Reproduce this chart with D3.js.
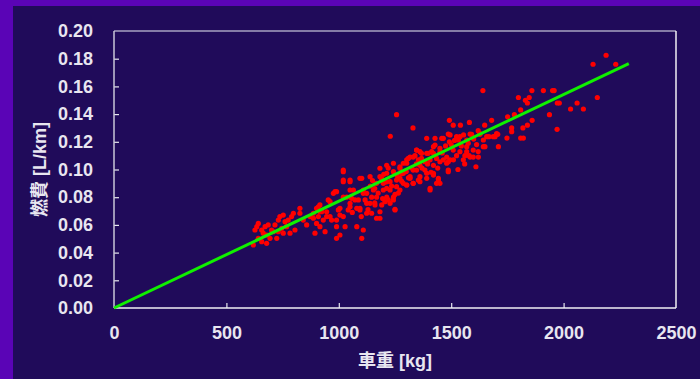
<!DOCTYPE html>
<html>
<head>
<meta charset="utf-8">
<script src="https://cdn.jsdelivr.net/npm/d3@7"></script>
<style>
  html, body { margin: 0; padding: 0; background: #5a04b6; }
  svg { display: block; }
  .tick text, .title { font-family: "Liberation Sans", Arial, "Noto Sans CJK JP", sans-serif; font-weight: bold; fill: #e8e6f0; }
</style>
</head>
<body>
<div id="chart"></div>
<script>
// vehicle weight [kg] vs fuel use [L/km]
var lightCars = [
  [620,0.0455],[627,0.0563],[642,0.0611],[657,0.0563],[672,0.0587],[686,0.060],[701,0.0563],
  [716,0.060],[731,0.0635],[738,0.066],[753,0.0671],[761,0.0623],[775,0.0635],[790,0.066],
  [798,0.0684],[827,0.072],[805,0.0563],[783,0.054],[753,0.054],[731,0.0551],[709,0.0551],
  [679,0.0467],[657,0.0479],[642,0.0503],[679,0.0527],[694,0.0503],[724,0.0503],[635,0.0587],
  [664,0.054],[746,0.0575],[768,0.0587],[827,0.0684],[842,0.0635],[857,0.060],[872,0.066],
  [887,0.0684],[894,0.054],[901,0.072],[916,0.0744],[939,0.0551],[946,0.066],[953,0.078],
  [968,0.0635],[983,0.084],[990,0.0635],[998,0.0708],[990,0.0587],[990,0.0503],[924,0.0695],
  [931,0.0635],[909,0.066],[961,0.0768],[909,0.0731],[946,0.0695],[901,0.0611],[916,0.0587],
  [887,0.0648],[916,0.0695],[961,0.066],[976,0.0828],[990,0.084]
];
var midCars = [
  [1005,0.0527],[1020,0.066],[1028,0.0587],[1005,0.0671],[1042,0.0708],[1050,0.0756],
  [1057,0.0792],[1020,0.080],[1020,0.0912],[1020,0.0984],[1080,0.0587],[1102,0.0503],
  [1109,0.0563],[1005,0.072],[1050,0.0852],[1020,0.0924],[1020,0.0996],[1050,0.0924],
  [1072,0.078],[1050,0.0731],[1094,0.072],[1124,0.0756],[1146,0.0684],[1183,0.0695],
  [1183,0.0648],[1250,0.0713],[1205,0.0768],[1243,0.080],[1117,0.078],[1146,0.080],
  [1213,0.080],[1228,0.0756],[1161,0.0744],[1183,0.1009],[1220,0.101],[1272,0.1009],
  [1302,0.1045],[1309,0.108],[1339,0.110],[1361,0.103],[1383,0.0996],[1391,0.0936],
  [1406,0.0852],[1443,0.0936],[1421,0.0973],[1450,0.090],[1354,0.0924],[1317,0.0936],
  [1287,0.090],[1257,0.0876],[1228,0.0852],[1198,0.0852],[1168,0.080],[1124,0.0828],
  [1102,0.0936],[1139,0.0948],[1109,0.0852],[1183,0.0948],[1213,0.0973],[1243,0.0984],
  [1228,0.0912],[1168,0.090],[1198,0.090],[1272,0.0936],[1331,0.0996],[1383,0.1056],
  [1406,0.107],[1368,0.108],[1213,0.103],[1243,0.1045],[1302,0.107],[1331,0.109],
  [1361,0.1129],[1421,0.1117],[1450,0.1056],[1480,0.1045],[1487,0.0996],[1421,0.096],
  [1361,0.0912],[1331,0.090],[1302,0.0888],[1272,0.0852],[1250,0.0708],[1243,0.078],
  [1220,0.078],[1191,0.0744],[1168,0.0648],[1139,0.0756],[1124,0.0684],[1094,0.0708],
  [1080,0.072],[1109,0.0828],[1094,0.0936],[1050,0.0912],[1065,0.0852],[1087,0.078],
  [1154,0.0852],[1213,0.0864],[1257,0.0924],[1287,0.0973],[1317,0.0948],[1346,0.0996],
  [1391,0.0973],[1421,0.103],[1257,0.1396],[1229,0.124],[1330,0.130],[1346,0.114],
  [1317,0.109],[1287,0.1045],[1354,0.107],[1391,0.1117],[1421,0.1165],[1450,0.1153],
  [1480,0.109],[1487,0.0984],[1443,0.0924],[1435,0.090],[1406,0.0864],[1361,0.0948],
  [1331,0.090],[1302,0.0888],[1272,0.102],[1368,0.1117],[1398,0.1117],[1413,0.1129],
  [1428,0.1177],[1450,0.1129],[1435,0.108],[1465,0.107],[1487,0.1056],[1391,0.1225],
  [1428,0.1225],[1458,0.1225],[1487,0.1256],[1465,0.1225],[1492,0.120],[1495,0.125],
  [1492,0.1355],[1346,0.114],[1160,0.0862],[1190,0.0935],[1260,0.0955],[1300,0.0985],
  [1140,0.088],[1200,0.0965],[1280,0.0915],[1150,0.092],[1175,0.083],[1195,0.079],
  [1210,0.091],[1235,0.088],[1265,0.083],[1280,0.097],[1310,0.094],[1325,0.101],
  [1345,0.104],[1370,0.101],[1395,0.104],[1410,0.098],[1440,0.101],[1460,0.112],
  [1475,0.117],[1130,0.071],[1160,0.076],[1250,0.082],[1100,0.066],[1060,0.069],[1035,0.080]
];
var heavyCars = [
  [2189,0.1825],[2131,0.176],[2232,0.176],[2150,0.152],[1641,0.157],[1859,0.157],
  [1910,0.157],[1951,0.157],[1958,0.157],[1799,0.152],[1830,0.150],[1839,0.148],
  [1847,0.152],[1972,0.148],[1981,0.148],[2060,0.148],[2031,0.1437],[2088,0.1437],
  [1937,0.1396],[1971,0.129],[1809,0.143],[1781,0.1396],[1751,0.138],[1860,0.1355],
  [1839,0.132],[1819,0.130],[1769,0.130],[1769,0.1273],[1809,0.1227],[1821,0.1227],
  [1748,0.1227],[1680,0.1355],[1649,0.132],[1581,0.134],[1541,0.132],[1509,0.132],
  [1707,0.1254],[1695,0.1237],[1668,0.1237],[1710,0.1165],[1628,0.1254],[1643,0.1213],
  [1613,0.118],[1650,0.1165],[1591,0.1254],[1569,0.1213],[1539,0.1237],[1532,0.1213],
  [1524,0.1237],[1584,0.1256],[1628,0.126],[1658,0.1237],[1687,0.1237],[1702,0.126],
  [1509,0.114],[1539,0.1129],[1569,0.1165],[1598,0.114],[1584,0.109],[1621,0.109],
  [1495,0.107],[1524,0.110],[1561,0.110],[1510,0.107],[1554,0.107],[1569,0.1129],
  [1598,0.109],[1643,0.1165],[1576,0.119],[1560,0.104],[1610,0.102],[1580,0.110],
  [1530,0.100],[1620,0.113],[1500,0.118],[1515,0.121],[1545,0.117],[1555,0.125],
  [1600,0.122],[1620,0.128]
];
var trendX = [0, 2290];
var trendY = [0, 0.1765];
var xTicks = [0, 500, 1000, 1500, 2000, 2500];
var yTicks = [0, 0.02, 0.04, 0.06, 0.08, 0.10, 0.12, 0.14, 0.16, 0.18, 0.20];

const width = 700, height = 379;
const plot = { left: 114, top: 31, right: 676, bottom: 308 };

const svg = d3.select("#chart").append("svg")
  .attr("width", width)
  .attr("height", height);

// purple border, dark panel
svg.append("rect").attr("x", 13).attr("y", 6)
  .attr("width", width - 13).attr("height", height - 6)
  .attr("fill", "#200b5a");

const xScale = d3.scaleLinear().domain([0, 2500]).range([plot.left, plot.right]);
const yScale = d3.scaleLinear().domain([0, 0.2]).range([plot.bottom, plot.top]);

// axes with inward ticks
var xAxis = svg.append("g")
  .attr("transform", "translate(0," + plot.bottom + ")")
  .call(d3.axisBottom(xScale).tickValues(xTicks).tickSize(-5).tickPadding(18).tickFormat(d3.format("d")));
var yAxis = svg.append("g")
  .attr("transform", "translate(" + plot.left + ",0)")
  .call(d3.axisLeft(yScale).tickValues(yTicks).tickSize(-5).tickPadding(21).tickFormat(d3.format(".2f")));

[xAxis, yAxis].forEach(function(a) {
  a.select(".domain").remove();
  a.selectAll(".tick line").attr("stroke", "#e8e8ee").attr("stroke-width", 1.2);
  a.selectAll(".tick text").style("font-size", "18px");
});
xAxis.selectAll(".tick").filter(function(d) { return d === 0 || d === 2500; }).select("line").remove();
yAxis.selectAll(".tick").filter(function(d) { return d === 0 || d === 0.2; }).select("line").remove();

// frame: top/left a bit greyer than right/bottom
svg.append("line").attr("x1", plot.left).attr("x2", plot.right).attr("y1", plot.top).attr("y2", plot.top)
  .attr("stroke", "#a7a3c2").attr("stroke-width", 1.5);
svg.append("line").attr("x1", plot.left).attr("x2", plot.left).attr("y1", plot.top).attr("y2", plot.bottom)
  .attr("stroke", "#c9c7d8").attr("stroke-width", 1.5);
svg.append("line").attr("x1", plot.right).attr("x2", plot.right).attr("y1", plot.top).attr("y2", plot.bottom)
  .attr("stroke", "#f0f0f4").attr("stroke-width", 1.5);
svg.append("line").attr("x1", plot.left).attr("x2", plot.right).attr("y1", plot.bottom).attr("y2", plot.bottom)
  .attr("stroke", "#f0f0f4").attr("stroke-width", 1.5);

var cars = lightCars.concat(midCars, heavyCars);

svg.append("g").selectAll("circle")
  .data(cars)
  .enter()
  .append("circle")
  .attr("cx", d => xScale(d[0]))
  .attr("cy", d => yScale(d[1]))
  .attr("r", 2.6)
  .attr("fill", "#ff0000");

var trend = trendX.map(function(x, i) { return [x, trendY[i]]; });
svg.append("path")
  .datum(trend)
  .attr("fill", "none")
  .attr("stroke", "#10f000")
  .attr("stroke-width", 3)
  .attr("d", d3.line().x(d => xScale(d[0])).y(d => yScale(d[1])));

svg.append("text").attr("class", "title")
  .attr("x", (plot.left + plot.right) / 2).attr("y", 367)
  .attr("text-anchor", "middle").style("font-size", "18px")
  .text("車重 [kg]");

svg.append("text").attr("class", "title")
  .attr("transform", "translate(46," + (plot.top + plot.bottom) / 2 + ") rotate(-90)")
  .attr("text-anchor", "middle").style("font-size", "18px")
  .text("燃費 [L/km]");
</script>
</body>
</html>
